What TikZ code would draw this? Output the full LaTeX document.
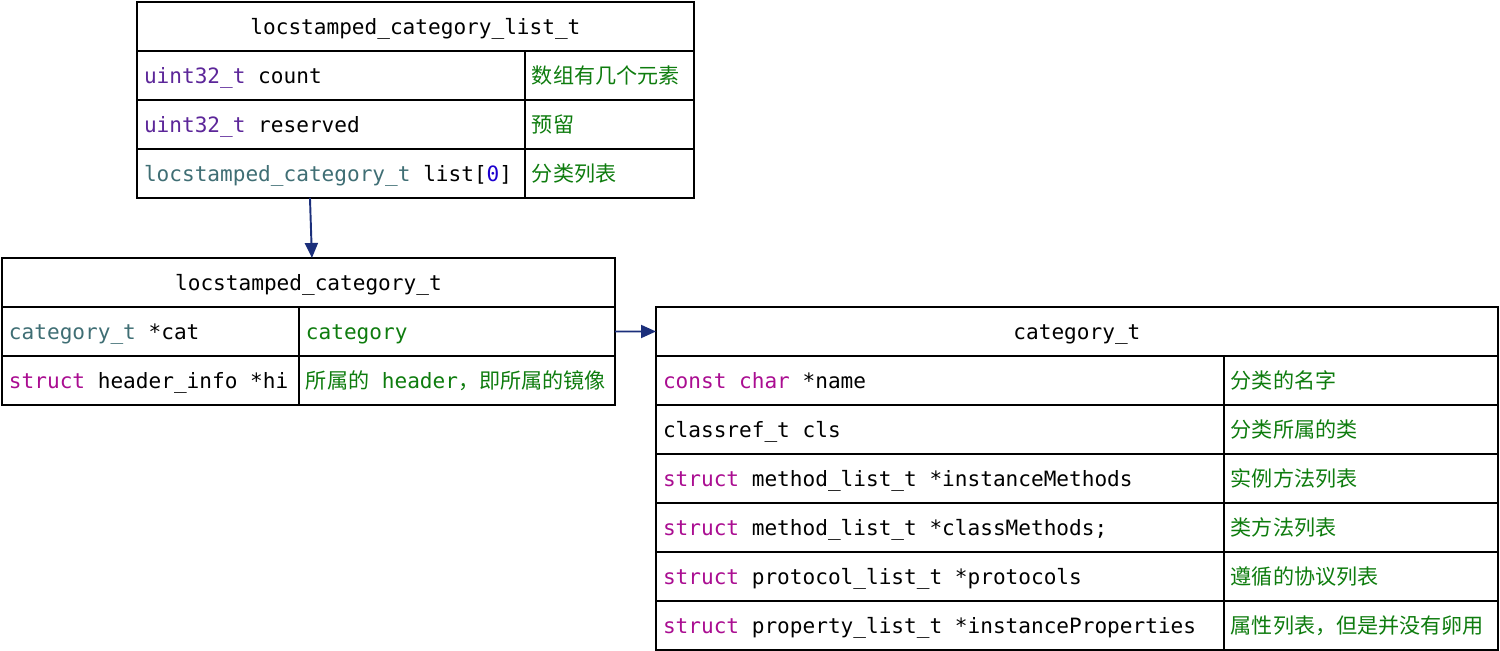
\documentclass[tikz,border=0pt]{standalone}
\usepackage{fontspec}
\setmonofont{DejaVu Sans Mono}
\newfontfamily\cjk{Noto Sans CJK SC}
\usetikzlibrary{arrows.meta}
\definecolor{kwpink}{HTML}{AA0D91}
\definecolor{typepurple}{HTML}{5C2699}
\definecolor{typeteal}{HTML}{3F6E74}
\definecolor{numblue}{HTML}{1C00CF}
\definecolor{cmtgreen}{HTML}{0E7C0E}
\definecolor{arrowblue}{HTML}{1B2F7B}
\begin{document}
\begin{tikzpicture}[x=0.02cm,y=-0.02cm,
  cell/.style={draw,line width=1.1pt,anchor=north west,outer sep=0pt,minimum height=0.98cm,inner xsep=0.14cm,inner ysep=0pt,
    text width=#1,align=flush left,text height=0.38cm,text depth=0.06cm,font=\fontsize{12}{14}\selectfont\ttfamily},
  title/.style={cell=#1,align=flush center},
  note/.style={cell=#1,text=cmtgreen,font=\fontsize{12}{14}\selectfont\cjk},
  link/.style={arrowblue,line width=1.1pt,-{Triangle[length=0.3cm,width=0.26cm]}}]
\useasboundingbox (0,0) rectangle (1500,651);

\node[title=10.86cm] (lt) at (137,2) {locstamped\_category\_list\_t};
\node[cell=7.48cm] (lcount) at (lt.south west) {\textcolor{typepurple}{uint32\_t} count};
\node[note=3.10cm] (lcountc) at (lcount.north east) {数组有几个元素};
\node[cell=7.48cm] (lres) at (lcount.south west) {\textcolor{typepurple}{uint32\_t} reserved};
\node[note=3.10cm] (lresc) at (lres.north east) {预留};
\node[cell=7.48cm] (llist) at (lres.south west) {\textcolor{typeteal}{locstamped\_category\_t} list[\textcolor{numblue}{0}]};
\node[note=3.10cm] (llistc) at (llist.north east) {分类列表};

\node[title=11.98cm] (ct) at (2,258) {locstamped\_category\_t};
\node[cell=5.66cm] (ccat) at (ct.south west) {\textcolor{typeteal}{category\_t} *cat};
\node[note=6.04cm] (ccatc) at (ccat.north east) {\ttfamily category};
\node[cell=5.66cm] (chi) at (ccat.south west) {\textcolor{kwpink}{struct} header\_info *hi};
\node[note=6.04cm] (chic) at (chi.north east) {所属的{\ttfamily\ header}，即所属的镜像};

\node[title=16.56cm] (pt) at (656,307) {category\_t};
\node[cell=11.08cm] (pname) at (pt.south west) {\textcolor{kwpink}{const char} *name};
\node[note=5.20cm] (pnamec) at (pname.north east) {分类的名字};
\node[cell=11.08cm] (pcls) at (pname.south west) {classref\_t cls};
\node[note=5.20cm] (pclsc) at (pcls.north east) {分类所属的类};
\node[cell=11.08cm] (pim) at (pcls.south west) {\textcolor{kwpink}{struct} method\_list\_t *instanceMethods};
\node[note=5.20cm] (pimc) at (pim.north east) {实例方法列表};
\node[cell=11.08cm] (pcm) at (pim.south west) {\textcolor{kwpink}{struct} method\_list\_t *classMethods;};
\node[note=5.20cm] (pcmc) at (pcm.north east) {类方法列表};
\node[cell=11.08cm] (pproto) at (pcm.south west) {\textcolor{kwpink}{struct} protocol\_list\_t *protocols};
\node[note=5.20cm] (pprotoc) at (pproto.north east) {遵循的协议列表};
\node[cell=11.08cm] (pprop) at (pproto.south west) {\textcolor{kwpink}{struct} property\_list\_t *instanceProperties};
\node[note=5.20cm] (ppropc) at (pprop.north east) {属性列表，但是并没有卵用};

\draw[link] ([xshift=-0.42cm]llist.south) -- ([xshift=0.07cm]ct.north);
\draw[link] (ccatc.east) -- (pt.west);
\end{tikzpicture}
\end{document}
